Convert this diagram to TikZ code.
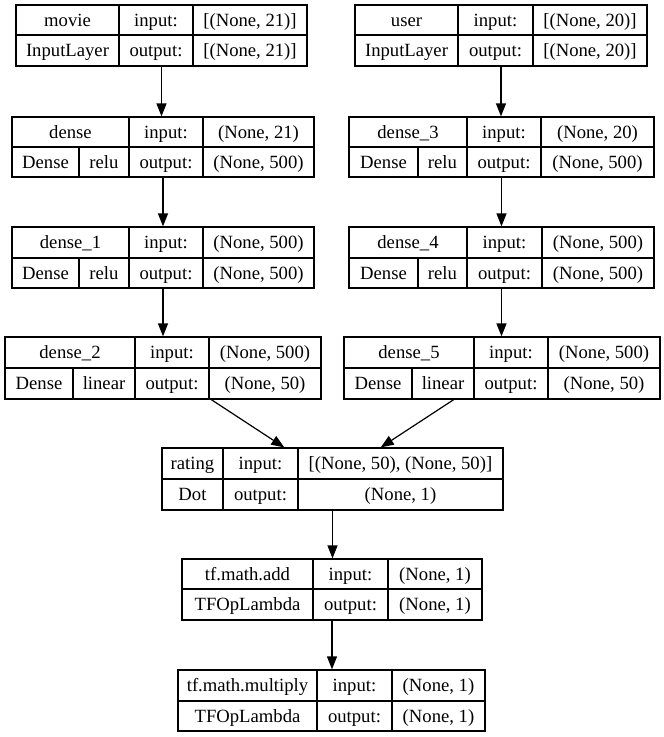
\documentclass[tikz,border=0pt]{standalone}
\usepackage{fontspec}
\setmainfont{Liberation Serif}
\usetikzlibrary{arrows.meta}
\tikzset{
  frame/.style={draw, line width=1.2pt, inner sep=0pt, rectangle},
  grid/.style={line width=1.2pt},
  lbl/.style={anchor=base, inner sep=0pt, font=\fontsize{18.67}{22}\selectfont},
  conn/.style={line width=1.2pt, -{Triangle[length=13pt,width=10pt]}},
}
% name, left, top, right, bottom, mid, div1, div2
\newcommand{\kframe}[8]{%
  \node[frame, minimum width={(#4-#2)*1pt}, minimum height={(#5-#3)*1pt}] (#1) at ({(#2+#4)/2},{(#3+#5)/2}) {};
  \draw[grid] (#2,#6) -- (#4,#6);
  \draw[grid] (#7,#3) -- (#7,#5);
  \draw[grid] (#8,#3) -- (#8,#5);
}
% x, top(mid), bottom
\newcommand{\subdiv}[3]{\draw[grid] (#1,#2) -- (#1,#3);}
\newcommand{\txt}[4]{\node[lbl] (#1) at (#2,#3) {#4};}
\begin{document}
\begin{tikzpicture}[x=1pt,y=-1pt]
\useasboundingbox[fill=white] (0,0) rectangle (664,737);

% movie
\kframe{movie}{16}{5}{307}{66}{35}{119}{193}
\txt{movie-n}{67.5}{26}{movie}
\txt{movie-i}{156}{26}{input:}
\txt{movie-iv}{250}{26}{[(None, 21)]}
\txt{movie-t}{67.5}{56.5}{InputLayer}
\txt{movie-o}{156}{56.5}{output:}
\txt{movie-ov}{250}{56.5}{[(None, 21)]}

% user
\kframe{user}{355}{5}{647}{66}{35}{458}{533}
\txt{user-n}{406.5}{26}{user}
\txt{user-i}{495.5}{26}{input:}
\txt{user-iv}{590}{26}{[(None, 20)]}
\txt{user-t}{406.5}{56.5}{InputLayer}
\txt{user-o}{495.5}{56.5}{output:}
\txt{user-ov}{590}{56.5}{[(None, 20)]}

% dense
\kframe{dense}{12}{117}{314}{177}{147}{129}{203}
\subdiv{79}{147}{177}
\txt{dense-n}{70.5}{138}{dense}
\txt{dense-i}{166}{138}{input:}
\txt{dense-iv}{258.5}{138}{(None, 21)}
\txt{dense-t}{45.5}{168}{Dense}
\txt{dense-a}{104}{168}{relu}
\txt{dense-o}{166}{168}{output:}
\txt{dense-ov}{258.5}{168}{(None, 500)}

% dense_3
\kframe{dense3}{349}{117}{654}{177}{147}{467}{541}
\subdiv{418}{147}{177}
\txt{dense3-n}{408}{138}{dense\_3}
\txt{dense3-i}{504}{138}{input:}
\txt{dense3-iv}{597.5}{138}{(None, 20)}
\txt{dense3-t}{383.5}{168}{Dense}
\txt{dense3-a}{442.5}{168}{relu}
\txt{dense3-o}{504}{168}{output:}
\txt{dense3-ov}{597.5}{168}{(None, 500)}

% dense_1
\kframe{dense1}{12}{227}{314}{288}{258}{129}{203}
\subdiv{79}{258}{288}
\txt{dense1-n}{70.5}{248.5}{dense\_1}
\txt{dense1-i}{166}{248.5}{input:}
\txt{dense1-iv}{258.5}{248.5}{(None, 500)}
\txt{dense1-t}{45.5}{279}{Dense}
\txt{dense1-a}{104}{279}{relu}
\txt{dense1-o}{166}{279}{output:}
\txt{dense1-ov}{258.5}{279}{(None, 500)}

% dense_4
\kframe{dense4}{349}{227}{654}{288}{258}{467}{542}
\subdiv{418}{258}{288}
\txt{dense4-n}{408}{248.5}{dense\_4}
\txt{dense4-i}{504.5}{248.5}{input:}
\txt{dense4-iv}{598}{248.5}{(None, 500)}
\txt{dense4-t}{383.5}{279}{Dense}
\txt{dense4-a}{442.5}{279}{relu}
\txt{dense4-o}{504.5}{279}{output:}
\txt{dense4-ov}{598}{279}{(None, 500)}

% dense_2
\kframe{dense2}{5}{337}{321}{399}{368}{135}{209}
\subdiv{73}{368}{399}
\txt{dense2-n}{70}{358.5}{dense\_2}
\txt{dense2-i}{172}{358.5}{input:}
\txt{dense2-iv}{265}{358.5}{(None, 500)}
\txt{dense2-t}{39}{389.5}{Dense}
\txt{dense2-a}{104}{389.5}{linear}
\txt{dense2-o}{172}{389.5}{output:}
\txt{dense2-ov}{265}{389.5}{(None, 50)}

% dense_5
\kframe{dense5}{344}{337}{660}{399}{368}{474}{548}
\subdiv{412}{368}{399}
\txt{dense5-n}{409}{358.5}{dense\_5}
\txt{dense5-i}{511}{358.5}{input:}
\txt{dense5-iv}{604}{358.5}{(None, 500)}
\txt{dense5-t}{378}{389.5}{Dense}
\txt{dense5-a}{443}{389.5}{linear}
\txt{dense5-o}{511}{389.5}{output:}
\txt{dense5-ov}{604}{389.5}{(None, 50)}

% rating
\kframe{rating}{162}{448}{503}{510}{479}{223}{298}
\txt{rating-n}{192.5}{469.5}{rating}
\txt{rating-i}{260.5}{469.5}{input:}
\txt{rating-iv}{400.5}{469.5}{[(None, 50), (None, 50)]}
\txt{rating-t}{192.5}{500.5}{Dot}
\txt{rating-o}{260.5}{500.5}{output:}
\txt{rating-ov}{400.5}{500.5}{(None, 1)}

% tf.math.add
\kframe{add}{182}{559}{482}{620}{589}{313}{388}
\txt{add-n}{247.5}{580}{tf.math.add}
\txt{add-i}{350.5}{580}{input:}
\txt{add-iv}{435}{580}{(None, 1)}
\txt{add-t}{247.5}{610.5}{TFOpLambda}
\txt{add-o}{350.5}{610.5}{output:}
\txt{add-ov}{435}{610.5}{(None, 1)}

% tf.math.multiply
\kframe{mul}{178}{670}{485}{731}{701}{317}{392}
\txt{mul-n}{247.5}{691.5}{tf.math.multiply}
\txt{mul-i}{354.5}{691.5}{input:}
\txt{mul-iv}{438.5}{691.5}{(None, 1)}
\txt{mul-t}{247.5}{722}{TFOpLambda}
\txt{mul-o}{354.5}{722}{output:}
\txt{mul-ov}{438.5}{722}{(None, 1)}

% connectors
\draw[conn] (movie.south) -- (movie.south |- dense.north);
\draw[conn] (dense.south) -- (dense.south |- dense1.north);
\draw[conn] (dense1.south) -- (dense1.south |- dense2.north);
\draw[conn] (user.south) -- (user.south |- dense3.north);
\draw[conn] (dense3.south) -- (dense3.south |- dense4.north);
\draw[conn] (dense4.south) -- (dense4.south |- dense5.north);
\draw[conn] (dense2) -- (rating);
\draw[conn] (dense5) -- (rating);
\draw[conn] (rating.south) -- (rating.south |- add.north);
\draw[conn] (add.south) -- (add.south |- mul.north);
\end{tikzpicture}
\end{document}
